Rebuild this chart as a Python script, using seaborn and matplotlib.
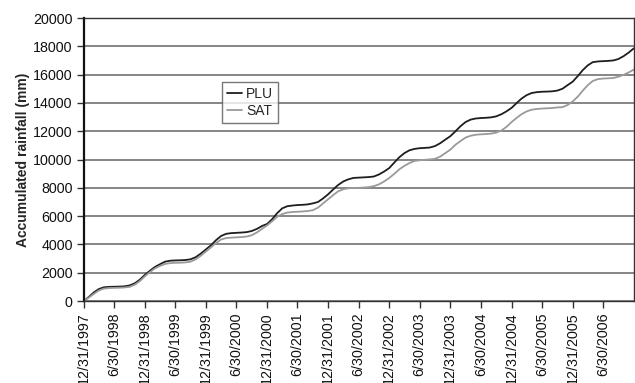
import matplotlib
import matplotlib.pyplot as plt
import pandas as pd
import seaborn as sns

matplotlib.use("Agg")

# month-end dates, 12/31/1997 .. 12/31/2006
dates = pd.date_range("1997-12-31", "2006-12-31", freq="ME")

# accumulated rainfall (mm)
plu = [
    0, 300, 600, 850, 970, 1000, 1010, 1020, 1040, 1100, 1250, 1500, 1850,
    2150, 2400, 2600, 2780, 2850, 2870, 2880, 2900, 2950, 3100, 3350, 3650,
    3950, 4300, 4600, 4750, 4800, 4820, 4840, 4870, 4950, 5100, 5300, 5450,
    5800, 6200, 6550, 6700, 6750, 6780, 6800, 6830, 6900, 7000, 7250, 7550,
    7900, 8200, 8450, 8600, 8700, 8720, 8740, 8760, 8800, 8950, 9150, 9400,
    9800, 10150, 10450, 10650, 10750, 10800, 10820, 10850, 10950, 11150, 11400, 11650,
    12000, 12350, 12650, 12820, 12900, 12930, 12950, 12980, 13050, 13200, 13400, 13650,
    14000, 14300, 14550, 14700, 14760, 14790, 14800, 14820, 14870, 15000, 15250, 15500,
    15900, 16300, 16650, 16880, 16930, 16950, 16970, 17000, 17100, 17300, 17550, 17850,
]
sat = [
    0, 250, 500, 750, 880, 920, 930, 940, 960, 1000, 1150, 1400, 1750,
    2050, 2300, 2480, 2620, 2680, 2700, 2710, 2730, 2780, 2950, 3200, 3500,
    3800, 4100, 4350, 4450, 4480, 4500, 4520, 4560, 4650, 4850, 5100, 5350,
    5650, 5950, 6150, 6250, 6290, 6310, 6330, 6360, 6420, 6600, 6900, 7200,
    7500, 7750, 7900, 7970, 7990, 8000, 8020, 8050, 8120, 8250, 8450, 8700,
    9000, 9300, 9550, 9750, 9900, 9950, 9980, 10010, 10050, 10200, 10450, 10700,
    11050, 11300, 11550, 11680, 11750, 11780, 11800, 11830, 11900, 12050, 12300, 12650,
    12950, 13200, 13400, 13520, 13570, 13600, 13620, 13640, 13680, 13700, 13850, 14100,
    14450, 14850, 15250, 15550, 15680, 15720, 15740, 15760, 15850, 15980, 16150, 16350,
]

series_names = ["PLU", "SAT"]
series_colors = ["#1e1e1e", "#9a9a9a"]

tick_dates = pd.date_range("1997-12-31", "2006-06-30", freq="6ME")
tick_labels = [f"{d.month}/{d.day}/{d.year}" for d in tick_dates]
y_ticks = list(range(0, 20001, 2000))

df = pd.concat([
    pd.DataFrame({"date": dates, "value": plu, "series": "PLU"}),
    pd.DataFrame({"date": dates, "value": sat, "series": "SAT"}),
])

sns.set_style("white")
plt.rcParams["font.family"] = ["Liberation Sans", "DejaVu Sans"]

fig = plt.figure(figsize=(6.35, 3.83), dpi=100)
ax = fig.add_axes([0.132, 0.214, 0.866, 0.739])

sns.lineplot(
    data=df, x="date", y="value", hue="series",
    hue_order=series_names, palette=series_colors,
    linewidth=1.3, ax=ax,
)

ax.set_xlim(dates[0], dates[-1])
ax.set_ylim(0, 20000)
ax.set_yticks(y_ticks)
ax.set_yticklabels([str(v) for v in y_ticks], fontsize=10.3, color="#111111")
ax.set_xticks(tick_dates)
ax.set_xticklabels(tick_labels, rotation=90, fontsize=10.3, color="#111111")
ax.tick_params(axis="both", direction="out", length=5, width=1, color="#333333",
               bottom=True, left=True, pad=3)

ax.yaxis.grid(True, color="#858585", linewidth=1.4)
ax.xaxis.grid(False)
ax.set_axisbelow(True)
for side, sp in ax.spines.items():
    sp.set_color("#333333")
    sp.set_linewidth(1.0)
ax.spines["left"].set_linewidth(1.6)
ax.spines["left"].set_color("#111111")

ax.set_xlabel("")
ax.set_ylabel("Accumulated rainfall (mm)", fontsize=10, fontweight="bold", labelpad=2)

leg = ax.legend(
    loc="upper left", bbox_to_anchor=(0.251, 0.774), borderaxespad=0,
    frameon=True, fancybox=False, fontsize=10, handlelength=1.1,
    handletextpad=0.3, borderpad=0.35, labelspacing=0.25, title=None,
)
leg.get_frame().set_edgecolor("#555555")
leg.get_frame().set_linewidth(1.0)

fig.savefig("out.png", dpi=100)
